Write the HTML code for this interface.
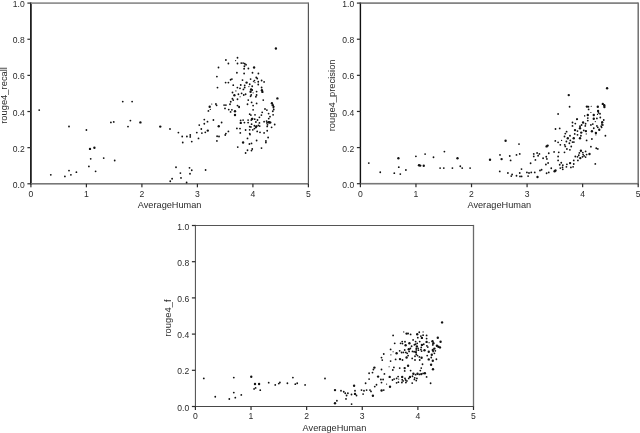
<!DOCTYPE html>
<html><head><meta charset="utf-8"><title>rouge4 scatter</title>
<style>
html,body{margin:0;padding:0;background:#fff;}
body{width:640px;height:433px;overflow:hidden;font-family:"Liberation Sans",sans-serif;}
svg{display:block}
text{font-family:"Liberation Sans",sans-serif;font-size:9px;fill:#2a2a2a;}
text.t{font-size:9.8px}
text.yl{font-size:9.4px}
text.xl{font-size:9.2px}
svg{filter:grayscale(1)}
.d circle{fill:#111}
</style></head><body>
<svg width="640" height="433" viewBox="0 0 640 433">
<rect x="0" y="0" width="640" height="433" fill="#fff"/>
<g>
<rect x="30.02" y="2.50" width="1.75" height="181.90" fill="#1c1c1c"/>
<rect x="307.80" y="2.50" width="1.2" height="181.90" fill="#555"/>
<rect x="30.90" y="2.30" width="277.50" height="1.6" fill="#888"/>
<rect x="30.90" y="183.00" width="277.50" height="1.6" fill="#777"/>
<rect x="30.30" y="183.80" width="1.2" height="3.5" fill="#2b2b2b"/>
<text class="t" x="30.90" y="197.20" text-anchor="middle" textLength="4.8" lengthAdjust="spacingAndGlyphs">0</text>
<rect x="27.40" y="183.20" width="3.5" height="1.2" fill="#2b2b2b"/>
<text class="t" x="24.70" y="187.90" text-anchor="end" textLength="11.9" lengthAdjust="spacingAndGlyphs">0.0</text>
<rect x="85.80" y="183.80" width="1.2" height="3.5" fill="#2b2b2b"/>
<text class="t" x="86.40" y="197.20" text-anchor="middle" textLength="4.8" lengthAdjust="spacingAndGlyphs">1</text>
<rect x="27.40" y="147.06" width="3.5" height="1.2" fill="#2b2b2b"/>
<text class="t" x="24.70" y="151.76" text-anchor="end" textLength="11.9" lengthAdjust="spacingAndGlyphs">0.2</text>
<rect x="141.30" y="183.80" width="1.2" height="3.5" fill="#2b2b2b"/>
<text class="t" x="141.90" y="197.20" text-anchor="middle" textLength="4.8" lengthAdjust="spacingAndGlyphs">2</text>
<rect x="27.40" y="110.92" width="3.5" height="1.2" fill="#2b2b2b"/>
<text class="t" x="24.70" y="115.62" text-anchor="end" textLength="11.9" lengthAdjust="spacingAndGlyphs">0.4</text>
<rect x="196.80" y="183.80" width="1.2" height="3.5" fill="#2b2b2b"/>
<text class="t" x="197.40" y="197.20" text-anchor="middle" textLength="4.8" lengthAdjust="spacingAndGlyphs">3</text>
<rect x="27.40" y="74.78" width="3.5" height="1.2" fill="#2b2b2b"/>
<text class="t" x="24.70" y="79.48" text-anchor="end" textLength="11.9" lengthAdjust="spacingAndGlyphs">0.6</text>
<rect x="252.30" y="183.80" width="1.2" height="3.5" fill="#2b2b2b"/>
<text class="t" x="252.90" y="197.20" text-anchor="middle" textLength="4.8" lengthAdjust="spacingAndGlyphs">4</text>
<rect x="27.40" y="38.64" width="3.5" height="1.2" fill="#2b2b2b"/>
<text class="t" x="24.70" y="43.34" text-anchor="end" textLength="11.9" lengthAdjust="spacingAndGlyphs">0.8</text>
<rect x="307.80" y="183.80" width="1.2" height="3.5" fill="#2b2b2b"/>
<text class="t" x="308.40" y="197.20" text-anchor="middle" textLength="4.8" lengthAdjust="spacingAndGlyphs">5</text>
<rect x="27.40" y="2.50" width="3.5" height="1.2" fill="#2b2b2b"/>
<text class="t" x="24.70" y="7.20" text-anchor="end" textLength="11.9" lengthAdjust="spacingAndGlyphs">1.0</text>
<text x="169.65" y="208.10" class="xl" text-anchor="middle">AverageHuman</text>
<text transform="translate(6.90,95.45) rotate(-90)" class="yl" text-anchor="middle">rouge4_recall</text>
<g class="d">
<circle cx="39.2" cy="110.1" r="0.9"/>
<circle cx="69.0" cy="126.5" r="0.9"/>
<circle cx="86.4" cy="130" r="0.9"/>
<circle cx="90.7" cy="158.8" r="0.9"/>
<circle cx="103.7" cy="158.1" r="0.9"/>
<circle cx="88.9" cy="166.4" r="0.9"/>
<circle cx="95.6" cy="171.3" r="0.9"/>
<circle cx="69.0" cy="170.6" r="0.9"/>
<circle cx="76.4" cy="172.2" r="0.9"/>
<circle cx="50.8" cy="174.8" r="0.9"/>
<circle cx="64.9" cy="176.4" r="0.9"/>
<circle cx="70.9" cy="174.8" r="0.9"/>
<circle cx="90.0" cy="148.9" r="1.18"/>
<circle cx="94.4" cy="147.7" r="1.18"/>
<circle cx="122.75" cy="101.6" r="0.9"/>
<circle cx="132.1" cy="101.6" r="0.9"/>
<circle cx="110.9" cy="122.4" r="0.9"/>
<circle cx="113.75" cy="121.9" r="0.9"/>
<circle cx="130.4" cy="120.6" r="0.9"/>
<circle cx="128" cy="126.6" r="0.9"/>
<circle cx="170" cy="129" r="0.9"/>
<circle cx="178.4" cy="132.6" r="0.9"/>
<circle cx="182.2" cy="136.5" r="0.9"/>
<circle cx="186.9" cy="136.5" r="0.9"/>
<circle cx="190.25" cy="135" r="0.9"/>
<circle cx="190.25" cy="136.9" r="0.9"/>
<circle cx="182.75" cy="142.5" r="0.9"/>
<circle cx="191.75" cy="141.6" r="0.9"/>
<circle cx="198.5" cy="138.4" r="0.9"/>
<circle cx="196.8" cy="132.6" r="0.9"/>
<circle cx="201.9" cy="133.1" r="0.9"/>
<circle cx="201.3" cy="129" r="0.9"/>
<circle cx="199.25" cy="125.1" r="0.9"/>
<circle cx="204.3" cy="119.6" r="0.9"/>
<circle cx="204.3" cy="123.75" r="0.9"/>
<circle cx="114.7" cy="160.5" r="0.9"/>
<circle cx="176" cy="167.25" r="0.9"/>
<circle cx="189.5" cy="167.8" r="0.9"/>
<circle cx="191.75" cy="170.25" r="0.9"/>
<circle cx="140.4" cy="122.4" r="1.18"/>
<circle cx="160.25" cy="126.6" r="1.18"/>
<circle cx="180.4" cy="173.1" r="0.9"/>
<circle cx="190" cy="173.75" r="0.9"/>
<circle cx="181" cy="177.9" r="0.9"/>
<circle cx="172.1" cy="178.75" r="0.9"/>
<circle cx="170.25" cy="181.25" r="0.9"/>
<circle cx="186.6" cy="182.5" r="0.9"/>
<circle cx="237.5" cy="57.75" r="0.9"/>
<circle cx="225.9" cy="60" r="0.9"/>
<circle cx="228.4" cy="63.5" r="0.9"/>
<circle cx="237.5" cy="63.5" r="0.9"/>
<circle cx="241.25" cy="63.1" r="0.9"/>
<circle cx="243.1" cy="63.1" r="0.9"/>
<circle cx="244.75" cy="63.75" r="0.9"/>
<circle cx="246" cy="64.75" r="0.9"/>
<circle cx="218.5" cy="67.5" r="0.9"/>
<circle cx="244.4" cy="66.25" r="0.9"/>
<circle cx="244.1" cy="68.75" r="0.9"/>
<circle cx="248.4" cy="68.5" r="0.9"/>
<circle cx="236.9" cy="72.75" r="0.9"/>
<circle cx="244.1" cy="73.5" r="0.9"/>
<circle cx="252.5" cy="72.75" r="0.9"/>
<circle cx="258.4" cy="73.5" r="0.9"/>
<circle cx="216.9" cy="76.6" r="0.9"/>
<circle cx="230.6" cy="79.75" r="0.9"/>
<circle cx="231.9" cy="79.1" r="0.9"/>
<circle cx="250.6" cy="79.1" r="0.9"/>
<circle cx="256.25" cy="77.5" r="0.9"/>
<circle cx="257.25" cy="78.5" r="0.9"/>
<circle cx="275.9" cy="48.5" r="1.18"/>
<circle cx="254.1" cy="67.5" r="1.18"/>
<circle cx="235.6" cy="60.6" r="0.62"/>
<circle cx="217.5" cy="87.6" r="0.9"/>
<circle cx="225.6" cy="82.6" r="0.9"/>
<circle cx="228.4" cy="82.6" r="0.9"/>
<circle cx="242.5" cy="80.1" r="0.9"/>
<circle cx="233.25" cy="85.2" r="0.9"/>
<circle cx="240.75" cy="85" r="0.9"/>
<circle cx="237.4" cy="87.6" r="0.9"/>
<circle cx="240" cy="88.3" r="0.9"/>
<circle cx="243.4" cy="89.4" r="0.9"/>
<circle cx="244.7" cy="85.3" r="0.9"/>
<circle cx="244.7" cy="87.5" r="0.9"/>
<circle cx="232.5" cy="92.5" r="0.9"/>
<circle cx="238.4" cy="94.25" r="0.9"/>
<circle cx="241.6" cy="93.3" r="0.9"/>
<circle cx="243.75" cy="95" r="0.9"/>
<circle cx="237.5" cy="99.25" r="0.9"/>
<circle cx="232.4" cy="98.75" r="0.9"/>
<circle cx="233.25" cy="100.1" r="0.9"/>
<circle cx="230.75" cy="101.75" r="0.9"/>
<circle cx="230" cy="104.25" r="0.9"/>
<circle cx="224.1" cy="105.1" r="0.9"/>
<circle cx="225.9" cy="105.1" r="0.9"/>
<circle cx="215.9" cy="104" r="0.9"/>
<circle cx="216.6" cy="105.3" r="0.9"/>
<circle cx="237.5" cy="105.6" r="0.9"/>
<circle cx="239.1" cy="106.6" r="0.9"/>
<circle cx="234.4" cy="95.3" r="1.18"/>
<circle cx="209.7" cy="106.8" r="1.18"/>
<circle cx="235.9" cy="90.9" r="0.62"/>
<circle cx="240.1" cy="96.75" r="0.62"/>
<circle cx="211.75" cy="104" r="0.62"/>
<circle cx="254.4" cy="80.6" r="0.9"/>
<circle cx="258.25" cy="81.75" r="0.9"/>
<circle cx="261.6" cy="80.5" r="0.9"/>
<circle cx="264.1" cy="81.9" r="0.9"/>
<circle cx="258.25" cy="84.5" r="0.9"/>
<circle cx="249.7" cy="84.25" r="0.9"/>
<circle cx="252.2" cy="86.25" r="0.9"/>
<circle cx="261.6" cy="87.5" r="0.9"/>
<circle cx="252.2" cy="90" r="0.9"/>
<circle cx="256.6" cy="91.6" r="0.9"/>
<circle cx="245.6" cy="94.25" r="0.9"/>
<circle cx="251.25" cy="94.9" r="0.9"/>
<circle cx="250.6" cy="96.25" r="0.9"/>
<circle cx="256.6" cy="95" r="0.9"/>
<circle cx="255.9" cy="96.75" r="0.9"/>
<circle cx="248.25" cy="100.1" r="0.9"/>
<circle cx="263.25" cy="100.1" r="0.9"/>
<circle cx="251.6" cy="102.4" r="0.9"/>
<circle cx="256.6" cy="103.4" r="0.9"/>
<circle cx="247.5" cy="104.25" r="0.9"/>
<circle cx="253.1" cy="105.6" r="0.9"/>
<circle cx="273.75" cy="106.6" r="0.9"/>
<circle cx="246.6" cy="82.6" r="1.18"/>
<circle cx="251.1" cy="89.5" r="1.18"/>
<circle cx="250.6" cy="91.75" r="1.18"/>
<circle cx="261.9" cy="90.3" r="1.18"/>
<circle cx="262.4" cy="91.9" r="1.18"/>
<circle cx="277.4" cy="98.4" r="1.18"/>
<circle cx="271.9" cy="103.25" r="1.18"/>
<circle cx="272.8" cy="105.3" r="1.18"/>
<circle cx="253.4" cy="81.6" r="0.62"/>
<circle cx="255" cy="82.6" r="0.62"/>
<circle cx="248.9" cy="86.6" r="0.62"/>
<circle cx="253.1" cy="92.8" r="0.62"/>
<circle cx="208.4" cy="110.9" r="0.9"/>
<circle cx="225" cy="108.4" r="0.9"/>
<circle cx="228.75" cy="109.6" r="0.9"/>
<circle cx="231.9" cy="109.8" r="0.9"/>
<circle cx="230.6" cy="111.9" r="0.9"/>
<circle cx="239.1" cy="107.3" r="0.9"/>
<circle cx="213.4" cy="120" r="0.9"/>
<circle cx="207.5" cy="121.7" r="0.9"/>
<circle cx="221.6" cy="122.5" r="0.9"/>
<circle cx="240.6" cy="120.4" r="0.9"/>
<circle cx="243.1" cy="120.1" r="0.9"/>
<circle cx="244.4" cy="122.6" r="0.9"/>
<circle cx="236.9" cy="128.4" r="0.9"/>
<circle cx="240" cy="128.6" r="0.9"/>
<circle cx="228.4" cy="131.4" r="0.9"/>
<circle cx="225.9" cy="133.6" r="0.9"/>
<circle cx="205.3" cy="132.3" r="0.9"/>
<circle cx="240.3" cy="132.9" r="0.9"/>
<circle cx="235" cy="111.25" r="1.18"/>
<circle cx="235" cy="115" r="1.18"/>
<circle cx="218.75" cy="126.25" r="1.18"/>
<circle cx="240.75" cy="122.9" r="1.18"/>
<circle cx="207.8" cy="130.6" r="1.18"/>
<circle cx="210.3" cy="109.4" r="0.62"/>
<circle cx="273.4" cy="107.5" r="0.9"/>
<circle cx="273.75" cy="109.5" r="0.9"/>
<circle cx="272.8" cy="111.25" r="0.9"/>
<circle cx="273.1" cy="114.8" r="0.9"/>
<circle cx="265" cy="109" r="0.9"/>
<circle cx="266.9" cy="110.1" r="0.9"/>
<circle cx="268.6" cy="113.6" r="0.9"/>
<circle cx="270" cy="116.7" r="0.9"/>
<circle cx="268.75" cy="118.6" r="0.9"/>
<circle cx="253.1" cy="109.8" r="0.9"/>
<circle cx="262.2" cy="112.3" r="0.9"/>
<circle cx="261.4" cy="115.1" r="0.9"/>
<circle cx="249.7" cy="114.2" r="0.9"/>
<circle cx="250.9" cy="115.1" r="0.9"/>
<circle cx="255" cy="114.8" r="0.9"/>
<circle cx="259.4" cy="117.3" r="0.9"/>
<circle cx="252.5" cy="118.6" r="0.9"/>
<circle cx="251.25" cy="120.1" r="0.9"/>
<circle cx="254.7" cy="119.2" r="0.9"/>
<circle cx="257.5" cy="120" r="0.9"/>
<circle cx="248.1" cy="120.1" r="0.9"/>
<circle cx="248.1" cy="122.6" r="0.9"/>
<circle cx="255.9" cy="122" r="0.9"/>
<circle cx="259.4" cy="122.9" r="0.9"/>
<circle cx="251.6" cy="124.2" r="0.9"/>
<circle cx="264.1" cy="121.7" r="0.9"/>
<circle cx="266.6" cy="121.1" r="0.9"/>
<circle cx="266.9" cy="122.9" r="0.9"/>
<circle cx="269.1" cy="122" r="0.9"/>
<circle cx="270.6" cy="122.5" r="0.9"/>
<circle cx="267.5" cy="124.8" r="0.9"/>
<circle cx="267.2" cy="126.4" r="0.9"/>
<circle cx="274.7" cy="124.5" r="0.9"/>
<circle cx="271.6" cy="127.3" r="0.9"/>
<circle cx="249.7" cy="126.7" r="0.9"/>
<circle cx="250.9" cy="126.9" r="0.9"/>
<circle cx="254.4" cy="125.75" r="0.9"/>
<circle cx="256.6" cy="126.1" r="0.9"/>
<circle cx="258.4" cy="125.4" r="0.9"/>
<circle cx="259.7" cy="126.1" r="0.9"/>
<circle cx="255.9" cy="127.6" r="0.9"/>
<circle cx="254.4" cy="128.6" r="0.9"/>
<circle cx="252.8" cy="129.8" r="0.9"/>
<circle cx="249.7" cy="129.8" r="0.9"/>
<circle cx="245.6" cy="130" r="0.9"/>
<circle cx="267.2" cy="130.75" r="0.9"/>
<circle cx="257.2" cy="131.4" r="0.9"/>
<circle cx="260" cy="132.3" r="0.9"/>
<circle cx="264.1" cy="132.9" r="0.9"/>
<circle cx="249.7" cy="133.6" r="0.9"/>
<circle cx="217.1" cy="136.25" r="0.9"/>
<circle cx="219" cy="136.5" r="0.9"/>
<circle cx="225.25" cy="135" r="0.9"/>
<circle cx="216.9" cy="140.9" r="0.9"/>
<circle cx="247.5" cy="138.4" r="0.9"/>
<circle cx="250" cy="134.6" r="0.9"/>
<circle cx="249.4" cy="144" r="0.9"/>
<circle cx="251.5" cy="143.4" r="0.9"/>
<circle cx="256.6" cy="140.5" r="0.9"/>
<circle cx="268.1" cy="137.5" r="0.9"/>
<circle cx="265.9" cy="140.9" r="0.9"/>
<circle cx="265.9" cy="142.5" r="0.9"/>
<circle cx="237.75" cy="147.1" r="0.9"/>
<circle cx="261.5" cy="148.1" r="0.9"/>
<circle cx="247.5" cy="150.25" r="0.9"/>
<circle cx="252.25" cy="149" r="0.9"/>
<circle cx="251.5" cy="150.6" r="0.9"/>
<circle cx="245.6" cy="153" r="0.9"/>
<circle cx="205.6" cy="170" r="0.9"/>
<circle cx="243.1" cy="142.5" r="1.18"/>
<circle cx="268.4" cy="122.2" r="1.18"/>
<circle cx="269.7" cy="122.5" r="1.18"/>
<circle cx="252.0" cy="119.0" r="1.18"/>
<circle cx="256.2" cy="126.6" r="1.18"/>
</g></g>
<g>
<rect x="359.70" y="2.50" width="1.4" height="181.80" fill="#111"/>
<rect x="637.50" y="2.50" width="1.4" height="181.80" fill="#666"/>
<rect x="360.40" y="2.30" width="277.80" height="1.6" fill="#777"/>
<rect x="360.40" y="182.90" width="277.80" height="1.6" fill="#777"/>
<rect x="359.80" y="183.70" width="1.2" height="3.5" fill="#2b2b2b"/>
<text class="t" x="360.40" y="197.10" text-anchor="middle" textLength="4.8" lengthAdjust="spacingAndGlyphs">0</text>
<rect x="356.90" y="183.10" width="3.5" height="1.2" fill="#2b2b2b"/>
<text class="t" x="354.20" y="187.80" text-anchor="end" textLength="11.9" lengthAdjust="spacingAndGlyphs">0.0</text>
<rect x="415.36" y="183.70" width="1.2" height="3.5" fill="#2b2b2b"/>
<text class="t" x="415.96" y="197.10" text-anchor="middle" textLength="4.8" lengthAdjust="spacingAndGlyphs">1</text>
<rect x="356.90" y="146.98" width="3.5" height="1.2" fill="#2b2b2b"/>
<text class="t" x="354.20" y="151.68" text-anchor="end" textLength="11.9" lengthAdjust="spacingAndGlyphs">0.2</text>
<rect x="470.92" y="183.70" width="1.2" height="3.5" fill="#2b2b2b"/>
<text class="t" x="471.52" y="197.10" text-anchor="middle" textLength="4.8" lengthAdjust="spacingAndGlyphs">2</text>
<rect x="356.90" y="110.86" width="3.5" height="1.2" fill="#2b2b2b"/>
<text class="t" x="354.20" y="115.56" text-anchor="end" textLength="11.9" lengthAdjust="spacingAndGlyphs">0.4</text>
<rect x="526.48" y="183.70" width="1.2" height="3.5" fill="#2b2b2b"/>
<text class="t" x="527.08" y="197.10" text-anchor="middle" textLength="4.8" lengthAdjust="spacingAndGlyphs">3</text>
<rect x="356.90" y="74.74" width="3.5" height="1.2" fill="#2b2b2b"/>
<text class="t" x="354.20" y="79.44" text-anchor="end" textLength="11.9" lengthAdjust="spacingAndGlyphs">0.6</text>
<rect x="582.04" y="183.70" width="1.2" height="3.5" fill="#2b2b2b"/>
<text class="t" x="582.64" y="197.10" text-anchor="middle" textLength="4.8" lengthAdjust="spacingAndGlyphs">4</text>
<rect x="356.90" y="38.62" width="3.5" height="1.2" fill="#2b2b2b"/>
<text class="t" x="354.20" y="43.32" text-anchor="end" textLength="11.9" lengthAdjust="spacingAndGlyphs">0.8</text>
<rect x="637.60" y="183.70" width="1.2" height="3.5" fill="#2b2b2b"/>
<text class="t" x="638.20" y="197.10" text-anchor="middle" textLength="4.8" lengthAdjust="spacingAndGlyphs">5</text>
<rect x="356.90" y="2.50" width="3.5" height="1.2" fill="#2b2b2b"/>
<text class="t" x="354.20" y="7.20" text-anchor="end" textLength="11.9" lengthAdjust="spacingAndGlyphs">1.0</text>
<text x="499.30" y="208.30" class="xl" text-anchor="middle">AverageHuman</text>
<text transform="translate(335.40,95.40) rotate(-90)" class="yl" text-anchor="middle">rouge4_precision</text>
<g class="d">
<circle cx="368.8" cy="163.1" r="0.9"/>
<circle cx="380.25" cy="172.25" r="0.9"/>
<circle cx="394.3" cy="173.2" r="0.9"/>
<circle cx="400.3" cy="174.1" r="0.9"/>
<circle cx="398.8" cy="167.2" r="0.9"/>
<circle cx="405.9" cy="170" r="0.9"/>
<circle cx="415.9" cy="156.3" r="0.9"/>
<circle cx="425.1" cy="154.1" r="0.9"/>
<circle cx="433.5" cy="157.25" r="0.9"/>
<circle cx="444.4" cy="151.6" r="0.9"/>
<circle cx="440.1" cy="168.1" r="0.9"/>
<circle cx="443.8" cy="168.1" r="0.9"/>
<circle cx="452.4" cy="168.1" r="0.9"/>
<circle cx="460.3" cy="166.25" r="0.9"/>
<circle cx="462.2" cy="168.1" r="0.9"/>
<circle cx="470.1" cy="168.1" r="0.9"/>
<circle cx="398.4" cy="158.2" r="1.18"/>
<circle cx="419.0" cy="165.2" r="1.18"/>
<circle cx="420.2" cy="165.6" r="1.18"/>
<circle cx="423.75" cy="165.7" r="1.18"/>
<circle cx="457.5" cy="158.2" r="1.18"/>
<circle cx="519" cy="144.1" r="0.9"/>
<circle cx="500" cy="154.9" r="0.9"/>
<circle cx="509.75" cy="156" r="0.9"/>
<circle cx="510.6" cy="160.4" r="0.9"/>
<circle cx="516.5" cy="154.9" r="0.9"/>
<circle cx="519.75" cy="153.9" r="0.9"/>
<circle cx="533.75" cy="153.9" r="0.9"/>
<circle cx="533.75" cy="156.4" r="0.9"/>
<circle cx="537.1" cy="153" r="0.9"/>
<circle cx="539.4" cy="153.9" r="0.9"/>
<circle cx="538.1" cy="155.75" r="0.9"/>
<circle cx="548.75" cy="153.25" r="0.9"/>
<circle cx="546.25" cy="156.75" r="0.9"/>
<circle cx="543.1" cy="158.25" r="0.9"/>
<circle cx="546.9" cy="158.9" r="0.9"/>
<circle cx="535.4" cy="159.9" r="0.9"/>
<circle cx="530.6" cy="163.25" r="0.9"/>
<circle cx="548.1" cy="163" r="0.9"/>
<circle cx="545.9" cy="164.5" r="0.9"/>
<circle cx="521.5" cy="169.1" r="0.9"/>
<circle cx="499.75" cy="171.4" r="0.9"/>
<circle cx="507.9" cy="173" r="0.9"/>
<circle cx="512.1" cy="174.5" r="0.9"/>
<circle cx="511.25" cy="176.1" r="0.9"/>
<circle cx="516.5" cy="175.75" r="0.9"/>
<circle cx="519.75" cy="173" r="0.9"/>
<circle cx="520" cy="176.4" r="0.9"/>
<circle cx="521.6" cy="176.4" r="0.9"/>
<circle cx="526.9" cy="172.4" r="0.9"/>
<circle cx="529" cy="173" r="0.9"/>
<circle cx="531.25" cy="172.4" r="0.9"/>
<circle cx="528.1" cy="176.1" r="0.9"/>
<circle cx="534.75" cy="172.4" r="0.9"/>
<circle cx="540" cy="170.5" r="0.9"/>
<circle cx="541.6" cy="169.75" r="0.9"/>
<circle cx="546.6" cy="173.25" r="0.9"/>
<circle cx="548.75" cy="172.4" r="0.9"/>
<circle cx="505.6" cy="140.75" r="1.18"/>
<circle cx="546.6" cy="146.4" r="1.18"/>
<circle cx="547.6" cy="145.6" r="1.18"/>
<circle cx="501.6" cy="159.1" r="1.18"/>
<circle cx="490" cy="159.75" r="1.18"/>
<circle cx="537.5" cy="177" r="1.18"/>
<circle cx="569.6" cy="106.75" r="0.9"/>
<circle cx="558.1" cy="114" r="0.9"/>
<circle cx="576.9" cy="119.25" r="0.9"/>
<circle cx="607.1" cy="88.25" r="1.18"/>
<circle cx="568.75" cy="95.1" r="1.18"/>
<circle cx="584.6" cy="115.75" r="0.62"/>
<circle cx="588.4" cy="106.75" r="0.9"/>
<circle cx="588.6" cy="109.4" r="0.9"/>
<circle cx="598.4" cy="112.8" r="0.9"/>
<circle cx="600" cy="113.75" r="0.9"/>
<circle cx="587.8" cy="118.1" r="0.9"/>
<circle cx="587.8" cy="120.6" r="0.9"/>
<circle cx="596.9" cy="118.4" r="0.9"/>
<circle cx="600.3" cy="117.5" r="0.9"/>
<circle cx="577.2" cy="119.1" r="0.9"/>
<circle cx="603.75" cy="120" r="0.9"/>
<circle cx="601.9" cy="124.1" r="0.9"/>
<circle cx="602.8" cy="125" r="0.9"/>
<circle cx="572.5" cy="122.5" r="0.9"/>
<circle cx="575.3" cy="123.6" r="0.9"/>
<circle cx="585.6" cy="123.75" r="0.9"/>
<circle cx="581.6" cy="125" r="0.9"/>
<circle cx="590.9" cy="124.9" r="0.9"/>
<circle cx="592.8" cy="124.1" r="0.9"/>
<circle cx="572.5" cy="125.9" r="0.9"/>
<circle cx="580" cy="126.25" r="0.9"/>
<circle cx="585.3" cy="125.9" r="0.9"/>
<circle cx="596.9" cy="125.9" r="0.9"/>
<circle cx="601.25" cy="126.25" r="0.9"/>
<circle cx="586.9" cy="106.6" r="1.18"/>
<circle cx="597.8" cy="106.75" r="1.18"/>
<circle cx="602.8" cy="103.9" r="1.18"/>
<circle cx="604.25" cy="105.3" r="1.18"/>
<circle cx="604.4" cy="107" r="1.18"/>
<circle cx="598.1" cy="110.9" r="1.18"/>
<circle cx="587.8" cy="115" r="1.18"/>
<circle cx="593.75" cy="115" r="1.18"/>
<circle cx="593.75" cy="118.75" r="1.18"/>
<circle cx="602.2" cy="122.2" r="1.18"/>
<circle cx="583.1" cy="122.5" r="1.18"/>
<circle cx="591.25" cy="106.25" r="0.62"/>
<circle cx="597.5" cy="114.4" r="0.62"/>
<circle cx="590.9" cy="112.5" r="0.62"/>
<circle cx="584.7" cy="115.9" r="0.62"/>
<circle cx="595.3" cy="121.6" r="0.62"/>
<circle cx="555.5" cy="129" r="0.9"/>
<circle cx="559.7" cy="128.4" r="0.9"/>
<circle cx="566.6" cy="131.7" r="0.9"/>
<circle cx="565.3" cy="133.6" r="0.9"/>
<circle cx="564.5" cy="136.5" r="0.9"/>
<circle cx="570" cy="135.75" r="0.9"/>
<circle cx="577.5" cy="131.1" r="0.9"/>
<circle cx="574.7" cy="133.9" r="0.9"/>
<circle cx="577.5" cy="134.8" r="0.9"/>
<circle cx="583.75" cy="130.4" r="0.9"/>
<circle cx="580.9" cy="135.75" r="0.9"/>
<circle cx="586.6" cy="140.4" r="0.9"/>
<circle cx="555.3" cy="140.9" r="0.9"/>
<circle cx="558.1" cy="142.3" r="0.9"/>
<circle cx="566.4" cy="141.5" r="0.9"/>
<circle cx="570.3" cy="140.4" r="0.9"/>
<circle cx="569.4" cy="143.25" r="0.9"/>
<circle cx="560.3" cy="144.8" r="0.9"/>
<circle cx="564.7" cy="144.8" r="0.9"/>
<circle cx="565.3" cy="146.4" r="0.9"/>
<circle cx="571.25" cy="146.5" r="0.9"/>
<circle cx="566.9" cy="149" r="0.9"/>
<circle cx="569.9" cy="149.8" r="0.9"/>
<circle cx="554.1" cy="151.9" r="0.9"/>
<circle cx="558.75" cy="152.3" r="0.9"/>
<circle cx="564.5" cy="152.3" r="0.9"/>
<circle cx="579.4" cy="152.9" r="0.9"/>
<circle cx="582.8" cy="152.6" r="0.9"/>
<circle cx="585.6" cy="151.4" r="0.9"/>
<circle cx="572.5" cy="142.1" r="0.9"/>
<circle cx="573.9" cy="142.1" r="0.9"/>
<circle cx="567.8" cy="138.25" r="1.18"/>
<circle cx="573.75" cy="138.25" r="1.18"/>
<circle cx="575" cy="130.1" r="1.18"/>
<circle cx="580" cy="128.25" r="1.18"/>
<circle cx="581.25" cy="132.6" r="1.18"/>
<circle cx="585.9" cy="131.1" r="1.18"/>
<circle cx="580" cy="138.25" r="1.18"/>
<circle cx="580.9" cy="150.75" r="1.18"/>
<circle cx="586.25" cy="133.9" r="0.62"/>
<circle cx="561.6" cy="140.4" r="0.62"/>
<circle cx="593.75" cy="128.25" r="0.9"/>
<circle cx="597.8" cy="127.3" r="0.9"/>
<circle cx="601.6" cy="127.3" r="0.9"/>
<circle cx="605.4" cy="135.75" r="0.9"/>
<circle cx="591.9" cy="139" r="0.9"/>
<circle cx="590.9" cy="146.7" r="0.9"/>
<circle cx="596.25" cy="148.25" r="0.9"/>
<circle cx="597.8" cy="148.9" r="0.9"/>
<circle cx="599.25" cy="129.8" r="1.18"/>
<circle cx="591.9" cy="131.25" r="1.18"/>
<circle cx="595.9" cy="132.9" r="1.18"/>
<circle cx="589.5" cy="154.0" r="1.18"/>
<circle cx="595.9" cy="134.8" r="0.62"/>
<circle cx="558.1" cy="156.5" r="0.9"/>
<circle cx="558.1" cy="160.4" r="0.9"/>
<circle cx="551.25" cy="168.25" r="0.9"/>
<circle cx="561.25" cy="162.75" r="0.9"/>
<circle cx="559.7" cy="164.75" r="0.9"/>
<circle cx="562.8" cy="165.25" r="0.9"/>
<circle cx="560.3" cy="168.1" r="0.9"/>
<circle cx="562.5" cy="167.4" r="0.9"/>
<circle cx="562.8" cy="169.3" r="0.9"/>
<circle cx="566.9" cy="164.3" r="0.9"/>
<circle cx="566.4" cy="166.8" r="0.9"/>
<circle cx="573.75" cy="164" r="0.9"/>
<circle cx="570.9" cy="167.4" r="0.9"/>
<circle cx="573.1" cy="166.8" r="0.9"/>
<circle cx="573.75" cy="160.4" r="0.9"/>
<circle cx="577.9" cy="160.4" r="0.9"/>
<circle cx="575.3" cy="156.5" r="0.9"/>
<circle cx="577.5" cy="156.8" r="0.9"/>
<circle cx="578.75" cy="155.25" r="0.9"/>
<circle cx="582.5" cy="156.8" r="0.9"/>
<circle cx="584.1" cy="155.9" r="0.9"/>
<circle cx="585.6" cy="157.1" r="0.9"/>
<circle cx="583.1" cy="154.6" r="0.9"/>
<circle cx="586.6" cy="154.6" r="0.9"/>
<circle cx="595.3" cy="163.9" r="0.9"/>
<circle cx="554.6" cy="171.2" r="1.18"/>
<circle cx="555.5" cy="170.5" r="1.18"/>
<circle cx="570.1" cy="163.1" r="1.18"/>
<circle cx="580.3" cy="158.1" r="1.18"/>
</g></g>
<g>
<rect x="194.90" y="224.90" width="1.0" height="182.20" fill="#484848"/>
<rect x="472.85" y="224.90" width="1.3" height="182.20" fill="#6a6a6a"/>
<rect x="195.40" y="225.00" width="278.10" height="1.0" fill="#555"/>
<rect x="195.40" y="406.00" width="278.10" height="1.0" fill="#484848"/>
<rect x="194.80" y="406.50" width="1.2" height="3.5" fill="#2b2b2b"/>
<text class="t" x="195.40" y="419.10" text-anchor="middle" textLength="4.8" lengthAdjust="spacingAndGlyphs">0</text>
<rect x="191.90" y="405.90" width="3.5" height="1.2" fill="#2b2b2b"/>
<text class="t" x="189.20" y="410.60" text-anchor="end" textLength="11.9" lengthAdjust="spacingAndGlyphs">0.0</text>
<rect x="250.42" y="406.50" width="1.2" height="3.5" fill="#2b2b2b"/>
<text class="t" x="251.02" y="419.10" text-anchor="middle" textLength="4.8" lengthAdjust="spacingAndGlyphs">1</text>
<rect x="191.90" y="369.70" width="3.5" height="1.2" fill="#2b2b2b"/>
<text class="t" x="189.20" y="374.40" text-anchor="end" textLength="11.9" lengthAdjust="spacingAndGlyphs">0.2</text>
<rect x="306.04" y="406.50" width="1.2" height="3.5" fill="#2b2b2b"/>
<text class="t" x="306.64" y="419.10" text-anchor="middle" textLength="4.8" lengthAdjust="spacingAndGlyphs">2</text>
<rect x="191.90" y="333.50" width="3.5" height="1.2" fill="#2b2b2b"/>
<text class="t" x="189.20" y="338.20" text-anchor="end" textLength="11.9" lengthAdjust="spacingAndGlyphs">0.4</text>
<rect x="361.66" y="406.50" width="1.2" height="3.5" fill="#2b2b2b"/>
<text class="t" x="362.26" y="419.10" text-anchor="middle" textLength="4.8" lengthAdjust="spacingAndGlyphs">3</text>
<rect x="191.90" y="297.30" width="3.5" height="1.2" fill="#2b2b2b"/>
<text class="t" x="189.20" y="302.00" text-anchor="end" textLength="11.9" lengthAdjust="spacingAndGlyphs">0.6</text>
<rect x="417.28" y="406.50" width="1.2" height="3.5" fill="#2b2b2b"/>
<text class="t" x="417.88" y="419.10" text-anchor="middle" textLength="4.8" lengthAdjust="spacingAndGlyphs">4</text>
<rect x="191.90" y="261.10" width="3.5" height="1.2" fill="#2b2b2b"/>
<text class="t" x="189.20" y="265.80" text-anchor="end" textLength="11.9" lengthAdjust="spacingAndGlyphs">0.8</text>
<rect x="472.90" y="406.50" width="1.2" height="3.5" fill="#2b2b2b"/>
<text class="t" x="473.50" y="419.10" text-anchor="middle" textLength="4.8" lengthAdjust="spacingAndGlyphs">5</text>
<rect x="191.90" y="224.90" width="3.5" height="1.2" fill="#2b2b2b"/>
<text class="t" x="189.20" y="229.60" text-anchor="end" textLength="11.9" lengthAdjust="spacingAndGlyphs">1.0</text>
<text x="334.45" y="431.00" class="xl" text-anchor="middle">AverageHuman</text>
<text transform="translate(171.20,318.00) rotate(-90)" class="yl" text-anchor="middle">rouge4_f</text>
<g class="d">
<circle cx="203.8" cy="378.4" r="0.9"/>
<circle cx="215.25" cy="396.75" r="0.9"/>
<circle cx="229.3" cy="399" r="0.9"/>
<circle cx="235.3" cy="397.7" r="0.9"/>
<circle cx="233.8" cy="392.6" r="0.9"/>
<circle cx="233.8" cy="377.6" r="0.9"/>
<circle cx="241.3" cy="394.9" r="0.9"/>
<circle cx="254.1" cy="388.9" r="0.9"/>
<circle cx="255.6" cy="387.9" r="0.9"/>
<circle cx="260.25" cy="390.2" r="0.9"/>
<circle cx="268.7" cy="382.7" r="0.9"/>
<circle cx="275.25" cy="384.9" r="0.9"/>
<circle cx="278.8" cy="383.6" r="0.9"/>
<circle cx="279.9" cy="382.5" r="0.9"/>
<circle cx="287.4" cy="383.25" r="0.9"/>
<circle cx="292.9" cy="377.6" r="0.9"/>
<circle cx="295.3" cy="384.2" r="0.9"/>
<circle cx="297.2" cy="383.25" r="0.9"/>
<circle cx="305.1" cy="384.9" r="0.9"/>
<circle cx="251.25" cy="376.7" r="1.18"/>
<circle cx="255" cy="384" r="1.18"/>
<circle cx="259.1" cy="384" r="1.18"/>
<circle cx="325" cy="378.5" r="0.9"/>
<circle cx="336.9" cy="400.75" r="0.9"/>
<circle cx="341" cy="390.75" r="0.9"/>
<circle cx="343.75" cy="391.75" r="0.9"/>
<circle cx="345.25" cy="393.25" r="0.9"/>
<circle cx="347.9" cy="393.25" r="0.9"/>
<circle cx="346.6" cy="395.5" r="0.9"/>
<circle cx="346" cy="398.9" r="0.9"/>
<circle cx="351.5" cy="394.5" r="0.9"/>
<circle cx="351.6" cy="404.1" r="0.9"/>
<circle cx="355" cy="390.75" r="0.9"/>
<circle cx="356.5" cy="395.5" r="0.9"/>
<circle cx="361.5" cy="390.1" r="0.9"/>
<circle cx="364" cy="390.75" r="0.9"/>
<circle cx="363.1" cy="394.1" r="0.9"/>
<circle cx="366.6" cy="390.1" r="0.9"/>
<circle cx="365.6" cy="383.25" r="0.9"/>
<circle cx="370" cy="390.1" r="0.9"/>
<circle cx="371" cy="391.4" r="0.9"/>
<circle cx="374.75" cy="386.6" r="0.9"/>
<circle cx="376.5" cy="384.75" r="0.9"/>
<circle cx="369.1" cy="373.25" r="0.9"/>
<circle cx="369.1" cy="379.1" r="0.9"/>
<circle cx="372.5" cy="372.6" r="0.9"/>
<circle cx="373.4" cy="369.5" r="0.9"/>
<circle cx="381.5" cy="369.5" r="0.9"/>
<circle cx="380.9" cy="379.5" r="0.9"/>
<circle cx="383.1" cy="379.5" r="0.9"/>
<circle cx="381.5" cy="382.6" r="0.9"/>
<circle cx="383.75" cy="390.1" r="0.9"/>
<circle cx="384.4" cy="373.9" r="0.9"/>
<circle cx="381.5" cy="357.6" r="0.9"/>
<circle cx="382.25" cy="360.1" r="0.9"/>
<circle cx="383.75" cy="354" r="0.9"/>
<circle cx="335" cy="390.1" r="1.18"/>
<circle cx="335" cy="403.25" r="1.18"/>
<circle cx="354.1" cy="385.75" r="1.18"/>
<circle cx="355" cy="393.9" r="1.18"/>
<circle cx="372.9" cy="395.75" r="1.18"/>
<circle cx="374.4" cy="367.6" r="1.18"/>
<circle cx="378.1" cy="376.6" r="1.18"/>
<circle cx="381.6" cy="390.5" r="1.18"/>
<circle cx="442.1" cy="322.4" r="1.18"/>
<circle cx="393.1" cy="335.4" r="0.9"/>
<circle cx="408.1" cy="333.5" r="0.9"/>
<circle cx="410.6" cy="334.4" r="0.9"/>
<circle cx="419.25" cy="332.25" r="0.9"/>
<circle cx="423.1" cy="335.2" r="0.9"/>
<circle cx="417.8" cy="337.7" r="0.9"/>
<circle cx="420.9" cy="336.1" r="0.9"/>
<circle cx="413.1" cy="339.9" r="0.9"/>
<circle cx="415.6" cy="341.6" r="0.9"/>
<circle cx="419.7" cy="341.6" r="0.9"/>
<circle cx="394.7" cy="343.3" r="0.9"/>
<circle cx="402.2" cy="341.6" r="0.9"/>
<circle cx="405" cy="341.75" r="0.9"/>
<circle cx="400.6" cy="343.3" r="0.9"/>
<circle cx="402.5" cy="343.6" r="0.9"/>
<circle cx="417.2" cy="343.3" r="0.9"/>
<circle cx="414.4" cy="344.75" r="0.9"/>
<circle cx="415.6" cy="344.25" r="0.9"/>
<circle cx="423.75" cy="344.25" r="0.9"/>
<circle cx="411.6" cy="346.25" r="0.9"/>
<circle cx="421.25" cy="347.4" r="0.9"/>
<circle cx="416.25" cy="348.3" r="0.9"/>
<circle cx="418.1" cy="348.3" r="0.9"/>
<circle cx="410.3" cy="348.5" r="0.9"/>
<circle cx="390.6" cy="349.4" r="0.9"/>
<circle cx="404.7" cy="350" r="0.9"/>
<circle cx="399.7" cy="350.8" r="0.9"/>
<circle cx="401.6" cy="352.5" r="0.9"/>
<circle cx="403.4" cy="352.4" r="0.9"/>
<circle cx="405.9" cy="352.4" r="0.9"/>
<circle cx="407.2" cy="353.3" r="0.9"/>
<circle cx="409.1" cy="351.4" r="0.9"/>
<circle cx="412.5" cy="351.4" r="0.9"/>
<circle cx="414.1" cy="351.75" r="0.9"/>
<circle cx="416.25" cy="349.9" r="0.9"/>
<circle cx="418.4" cy="350.2" r="0.9"/>
<circle cx="420.9" cy="349.6" r="0.9"/>
<circle cx="421.6" cy="351.1" r="0.9"/>
<circle cx="416.25" cy="354.25" r="0.9"/>
<circle cx="406.6" cy="333.6" r="1.18"/>
<circle cx="417.2" cy="334.25" r="1.18"/>
<circle cx="421.9" cy="337.9" r="1.18"/>
<circle cx="405.6" cy="345.2" r="1.18"/>
<circle cx="409.4" cy="343.3" r="1.18"/>
<circle cx="421.9" cy="344.9" r="1.18"/>
<circle cx="416.9" cy="346.4" r="1.18"/>
<circle cx="408.75" cy="349.25" r="1.18"/>
<circle cx="396.6" cy="353.3" r="1.18"/>
<circle cx="415.9" cy="352.1" r="1.18"/>
<circle cx="424.5" cy="350.2" r="1.18"/>
<circle cx="403.75" cy="331.9" r="0.62"/>
<circle cx="423.1" cy="331.9" r="0.62"/>
<circle cx="393.1" cy="351.75" r="0.62"/>
<circle cx="390.9" cy="354.8" r="0.62"/>
<circle cx="426.6" cy="335.4" r="0.9"/>
<circle cx="426.6" cy="338.6" r="0.9"/>
<circle cx="432.8" cy="344.9" r="0.9"/>
<circle cx="426.9" cy="345.8" r="0.9"/>
<circle cx="427.8" cy="347.1" r="0.9"/>
<circle cx="433.1" cy="351.4" r="0.9"/>
<circle cx="435.3" cy="350.8" r="0.9"/>
<circle cx="434.4" cy="353.3" r="0.9"/>
<circle cx="426.6" cy="341.9" r="1.18"/>
<circle cx="437.8" cy="337.7" r="1.18"/>
<circle cx="440.6" cy="341.75" r="1.18"/>
<circle cx="432.5" cy="341.25" r="1.18"/>
<circle cx="433.4" cy="343.3" r="1.18"/>
<circle cx="436.9" cy="345.8" r="1.18"/>
<circle cx="438.4" cy="346.75" r="1.18"/>
<circle cx="440" cy="347.4" r="1.18"/>
<circle cx="434.4" cy="348.6" r="1.18"/>
<circle cx="432.8" cy="349.9" r="1.18"/>
<circle cx="428.75" cy="351.75" r="1.18"/>
<circle cx="431.8" cy="354.8" r="1.18"/>
<circle cx="429.1" cy="342.7" r="0.62"/>
<circle cx="390.6" cy="361.1" r="0.9"/>
<circle cx="395.6" cy="359.4" r="0.9"/>
<circle cx="402.5" cy="360" r="0.9"/>
<circle cx="408.1" cy="355.6" r="0.9"/>
<circle cx="412.2" cy="358.4" r="0.9"/>
<circle cx="415" cy="356.25" r="0.9"/>
<circle cx="415" cy="360" r="0.9"/>
<circle cx="417.5" cy="355.6" r="0.9"/>
<circle cx="419.4" cy="356.9" r="0.9"/>
<circle cx="419.7" cy="360" r="0.9"/>
<circle cx="422.5" cy="364.25" r="0.9"/>
<circle cx="393.9" cy="367.4" r="0.9"/>
<circle cx="392.8" cy="370" r="0.9"/>
<circle cx="399.7" cy="368.1" r="0.9"/>
<circle cx="404.7" cy="370.9" r="0.9"/>
<circle cx="410.6" cy="370.6" r="0.9"/>
<circle cx="421.25" cy="368.1" r="0.9"/>
<circle cx="420.3" cy="370.6" r="0.9"/>
<circle cx="415.6" cy="374.7" r="0.9"/>
<circle cx="419.4" cy="374.4" r="0.9"/>
<circle cx="423.1" cy="373.4" r="0.9"/>
<circle cx="412.5" cy="376.25" r="0.9"/>
<circle cx="408.75" cy="378.4" r="0.9"/>
<circle cx="414.7" cy="377.8" r="0.9"/>
<circle cx="416.9" cy="378.4" r="0.9"/>
<circle cx="414.4" cy="379.4" r="0.9"/>
<circle cx="416.25" cy="380.6" r="0.9"/>
<circle cx="398.1" cy="376.6" r="0.9"/>
<circle cx="396.6" cy="378.4" r="0.9"/>
<circle cx="394.1" cy="379.1" r="0.9"/>
<circle cx="392.5" cy="380" r="0.9"/>
<circle cx="402.2" cy="379.7" r="0.9"/>
<circle cx="405" cy="378.4" r="0.9"/>
<circle cx="405.6" cy="380" r="0.9"/>
<circle cx="406.9" cy="380.9" r="0.9"/>
<circle cx="400" cy="359.1" r="1.18"/>
<circle cx="406.6" cy="357.5" r="1.18"/>
<circle cx="421.6" cy="357.8" r="1.18"/>
<circle cx="408.1" cy="365.75" r="1.18"/>
<circle cx="404.7" cy="368.1" r="1.18"/>
<circle cx="389.7" cy="376.9" r="1.18"/>
<circle cx="413.4" cy="373.75" r="1.18"/>
<circle cx="417.5" cy="373.75" r="1.18"/>
<circle cx="421.25" cy="374.1" r="1.18"/>
<circle cx="424.9" cy="373.2" r="1.18"/>
<circle cx="410" cy="376.9" r="1.18"/>
<circle cx="402.2" cy="376.9" r="1.18"/>
<circle cx="389.1" cy="366.75" r="0.62"/>
<circle cx="398.75" cy="379.1" r="0.62"/>
<circle cx="427.2" cy="355.6" r="0.9"/>
<circle cx="431.25" cy="357.5" r="0.9"/>
<circle cx="436.4" cy="359.25" r="0.9"/>
<circle cx="426.6" cy="376.9" r="0.9"/>
<circle cx="430.6" cy="383.25" r="0.9"/>
<circle cx="428.75" cy="359.4" r="1.18"/>
<circle cx="432.8" cy="360.75" r="1.18"/>
<circle cx="431.1" cy="364.7" r="1.18"/>
<circle cx="433" cy="369.25" r="1.18"/>
<circle cx="396.6" cy="382.8" r="0.9"/>
<circle cx="398.4" cy="382.2" r="0.9"/>
<circle cx="401.9" cy="382.5" r="0.9"/>
<circle cx="403.1" cy="380.9" r="0.9"/>
<circle cx="405.9" cy="382.5" r="0.9"/>
<circle cx="412.2" cy="383.1" r="0.9"/>
<circle cx="390" cy="386.75" r="1.18"/>
<circle cx="386.6" cy="384.1" r="0.62"/>
</g></g>
</svg></body></html>
